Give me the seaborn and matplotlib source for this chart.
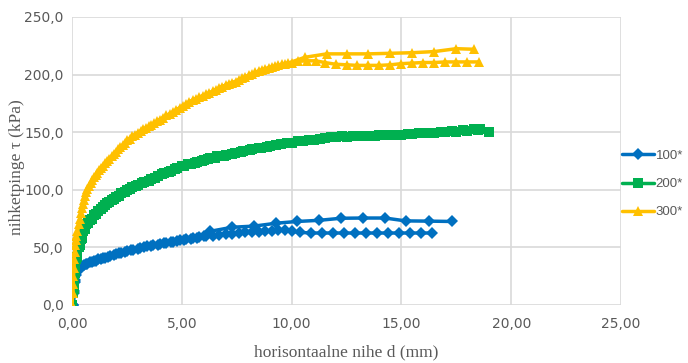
import pandas as pd
import seaborn as sns
import matplotlib.pyplot as plt
from matplotlib.ticker import FuncFormatter

# 100* - kaks mõõtmist (tihe ja hõreda lõpuga)
x_100a = [0.05, 0.1, 0.15, 0.2, 0.3, 0.4, 0.55, 0.7, 0.9, 1.1, 1.3, 1.5, 1.75, 2.0, 2.25, 2.5, 2.8, 3.1, 3.4,
          3.7, 4.0, 4.3, 4.6, 4.9, 5.2, 5.5, 5.8, 6.1, 6.4, 6.7, 7.0, 7.3, 7.6, 7.9, 8.2, 8.5, 8.8, 9.1, 9.4,
          9.7, 10.0, 10.4, 10.9, 11.4, 11.9, 12.4, 12.9, 13.4, 13.9, 14.4, 14.9, 15.4, 15.9, 16.4]
y_100a = [0, 10, 20, 26, 31, 33, 35, 36, 37.5, 38.5, 40, 41, 42.5, 44, 45, 46.5, 48, 49.5, 51,
          52, 53, 54, 55, 56, 57, 58, 59, 59.5, 60, 61, 61.5, 62, 62.5, 63, 63, 63.5, 64, 64, 65,
          65, 64, 63, 62.5, 62.5, 62.5, 62.5, 62.5, 62.5, 62.5, 62.5, 62.5, 62.5, 62.5, 62.5]
x_100b = [0.05, 0.1, 0.15, 0.25, 0.35, 0.5, 0.65, 0.8, 1.0, 1.2, 1.4, 1.65, 1.9, 2.15, 2.4, 2.7, 3.0, 3.3,
          3.6, 3.9, 4.2, 4.5, 4.8, 5.1, 5.4, 5.7, 6.0, 6.3, 7.3, 8.3, 9.3, 10.25, 11.25, 12.25, 13.25,
          14.25, 15.2, 16.25, 17.3]
y_100b = [0, 12, 22, 29, 32, 34, 35.5, 37, 38, 39.5, 40.5, 42, 43.5, 45, 46, 47.5, 49, 50.5,
          51.5, 52.5, 53.5, 54.5, 55.5, 56.5, 57.5, 58.5, 59.5, 64, 67.5, 68.5, 71, 72.5, 73.5, 75.3,
          75.5, 75.5, 73, 72.8, 72.5]

# 200*
x_200a = [0, 0.05, 0.1, 0.15, 0.2, 0.3, 0.4, 0.5, 0.65, 0.8, 1.0, 1.2, 1.4, 1.6, 1.8, 2.0, 2.25, 2.5, 2.75,
          3.0, 3.3, 3.6, 3.9, 4.2, 4.5, 4.8, 5.1, 5.4, 5.7, 6.0, 6.3, 6.6, 7.0, 7.4, 7.8, 8.2, 8.6, 9.0,
          9.5, 10.0, 10.5, 11.0, 11.5, 12.0, 12.5, 13.0, 13.5, 14.0, 14.5, 15.0, 15.5, 16.0, 16.5, 17.0,
          17.5, 18.0, 18.5, 19.0]
y_200a = [0, 10, 20, 32, 40, 50, 57, 64, 70, 74, 78, 82, 85.5, 88.5, 91.5, 94, 97, 100, 102.5,
          104.5, 107, 109.5, 112, 114.5, 116.5, 119, 121, 122.5, 124, 126, 127.5, 129, 130.5, 132, 133.5,
          135, 136.5, 138, 139.5, 141, 142.5, 143.5, 145, 145.5, 146, 146.5, 147, 147.5, 148, 148,
          148.5, 149, 149.5, 150, 150.5, 151, 151.5, 150.5]
x_200b = [0, 0.08, 0.15, 0.25, 0.35, 0.45, 0.6, 0.75, 0.9, 1.1, 1.3, 1.5, 1.7, 1.9, 2.15, 2.4, 2.65, 2.9,
          3.2, 3.5, 3.8, 4.1, 4.4, 4.7, 5.0, 5.3, 5.6, 5.9, 6.2, 6.5, 6.9, 7.3, 7.7, 8.1, 8.5, 8.9, 9.3,
          9.8, 10.3, 10.8, 11.3, 11.8, 12.3, 12.8, 13.3, 13.8, 14.3, 14.8, 15.3, 15.8, 16.3, 16.8, 17.3,
          17.8, 18.3, 18.6]
y_200b = [0, 14, 28, 42, 52, 58, 66, 71, 75, 79, 83, 86.5, 89.5, 92, 95, 98, 101, 103,
          105.5, 108, 110.5, 113.5, 115.5, 118, 120.5, 122, 123.5, 125, 126.5, 128, 129.5, 131, 133,
          134.5, 136, 137, 138.5, 140.5, 142, 143, 144, 145.5, 147, 147, 146.5, 147, 147.5, 148, 148.5,
          149, 149.5, 150, 151, 152, 152.5, 153]

# 300*
x_300a = [0, 0.03, 0.06, 0.1, 0.15, 0.2, 0.3, 0.4, 0.5, 0.6, 0.7, 0.85, 1.0, 1.15, 1.3, 1.5, 1.7, 1.9, 2.1,
          2.3, 2.5, 2.75, 3.0, 3.25, 3.5, 3.75, 4.0, 4.3, 4.6, 4.9, 5.2, 5.5, 5.8, 6.1, 6.4, 6.7, 7.0,
          7.3, 7.6, 7.9, 8.2, 8.5, 8.8, 9.1, 9.4, 9.7, 10.0, 10.3, 10.7, 11.1, 11.5, 12.0, 12.5, 13.0,
          13.5, 14.0, 14.5, 15.0, 15.5, 16.0, 16.5, 17.0, 17.5, 18.0, 18.55]
y_300a = [0, 10, 25, 40, 52, 60, 70, 80, 88, 95, 101, 106, 111, 115, 119, 123, 127, 131, 135,
          138.5, 143, 146.5, 149.5, 152.5, 155, 158, 161, 164.5, 167.5, 171, 174.5, 178, 180.5, 183, 185.5,
          188.5, 191, 193, 195.5, 198, 200.5, 203, 205, 206.5, 208, 209.5, 210.5, 211.5, 212, 212,
          210.5, 209, 208.5, 208, 208, 208, 208.5, 209.5, 210, 210.5, 210.5, 211, 211, 211, 211]
x_300b = [0, 0.05, 0.08, 0.12, 0.18, 0.25, 0.35, 0.45, 0.55, 0.65, 0.78, 0.92, 1.08, 1.22, 1.4, 1.6, 1.8,
          2.0, 2.2, 2.4, 2.62, 2.87, 3.12, 3.37, 3.62, 3.87, 4.15, 4.45, 4.75, 5.05, 5.35, 5.65, 5.95,
          6.25, 6.55, 6.85, 7.15, 7.45, 7.75, 8.05, 8.35, 8.65, 8.95, 9.25, 9.55, 9.85, 10.6, 11.6, 12.5,
          13.5, 14.5, 15.5, 16.5, 17.5, 18.3]
y_300b = [0, 18, 32, 46, 56, 64, 75, 84, 91, 98, 103.5, 108.5, 113, 117, 121, 125, 129, 133,
          137, 140.5, 144, 148, 151, 154, 156.5, 159.5, 162.5, 166, 169.5, 173, 176.5, 179, 181.5,
          184, 187, 189.5, 192, 194, 197, 199.5, 202, 204, 206, 207.5, 209, 210, 215, 218, 218,
          218, 218.5, 219, 220, 222.5, 222]

labels = ['100*', '200*', '300*']
colors = ['#0070C0', '#00B050', '#FFC000']

runs = [('100*', 'a', x_100a, y_100a), ('100*', 'b', x_100b, y_100b),
        ('200*', 'a', x_200a, y_200a), ('200*', 'b', x_200b, y_200b),
        ('300*', 'a', x_300a, y_300a), ('300*', 'b', x_300b, y_300b)]

rows = []
for name, run, xs, ys in runs:
    for xv, yv in zip(xs, ys):
        rows.append({'seeria': name, 'katse': run, 'd': xv, 'tau': yv})
df = pd.DataFrame(rows)

sns.set_style('white')
plt.rcParams['font.family'] = ['DejaVu Sans']

fig = plt.figure(figsize=(6.88, 3.63), dpi=100)
ax = fig.add_axes([72 / 688, 58 / 363, 549 / 688, 288 / 363])

sns.lineplot(data=df, x='d', y='tau', hue='seeria', style='seeria', units='katse',
             estimator=None, sort=False, hue_order=labels, style_order=labels,
             palette=dict(zip(labels, colors)),
             markers={'100*': 'D', '200*': 's', '300*': '^'}, dashes=False,
             linewidth=2.5, markersize=6.5, markeredgewidth=0, ax=ax, legend=True)

ax.set_xlim(0, 25)
ax.set_ylim(0, 250)
ax.set_xticks([0, 5, 10, 15, 20, 25])
ax.set_yticks([0, 50, 100, 150, 200, 250])
ax.xaxis.set_major_formatter(FuncFormatter(lambda v, p: f'{v:.2f}'.replace('.', ',')))
ax.yaxis.set_major_formatter(FuncFormatter(lambda v, p: f'{v:.1f}'.replace('.', ',')))
ax.grid(True, color='#D9D9D9', linewidth=1.2)
ax.set_axisbelow(True)
for s in ax.spines.values():
    s.set_visible(False)
ax.tick_params(axis='x', length=0, labelsize=10, labelcolor='#595959', pad=9)
ax.tick_params(axis='y', length=0, labelsize=10, labelcolor='#595959', pad=6)

ax.set_xlabel('horisontaalne nihe d (mm)', family='Liberation Serif', fontsize=12.5, color='#595959')
ax.xaxis.set_label_coords(0.5, -(344 - 305) / 288)
ax.set_ylabel('nihketpinge τ (kPa)', family='Liberation Serif', fontsize=12.5, color='#595959')
ax.yaxis.set_label_coords(-(72 - 25) / 549, 0.48)

handles, labs = ax.get_legend_handles_labels()
ax.get_legend().remove()
keep = [(h, l) for h, l in zip(handles, labs) if l in labels]
leg = fig.legend([h for h, l in keep], [l for h, l in keep], loc='center left',
                 bbox_to_anchor=(622 / 688, (363 - 184) / 363), frameon=False,
                 prop={'family': 'Liberation Sans', 'size': 9.5},
                 handlelength=2.4, handletextpad=0.15, labelspacing=1.2, borderaxespad=0,
                 borderpad=0)
for t in leg.get_texts():
    t.set_color('#595959')

fig.savefig('out.png', dpi=100)
